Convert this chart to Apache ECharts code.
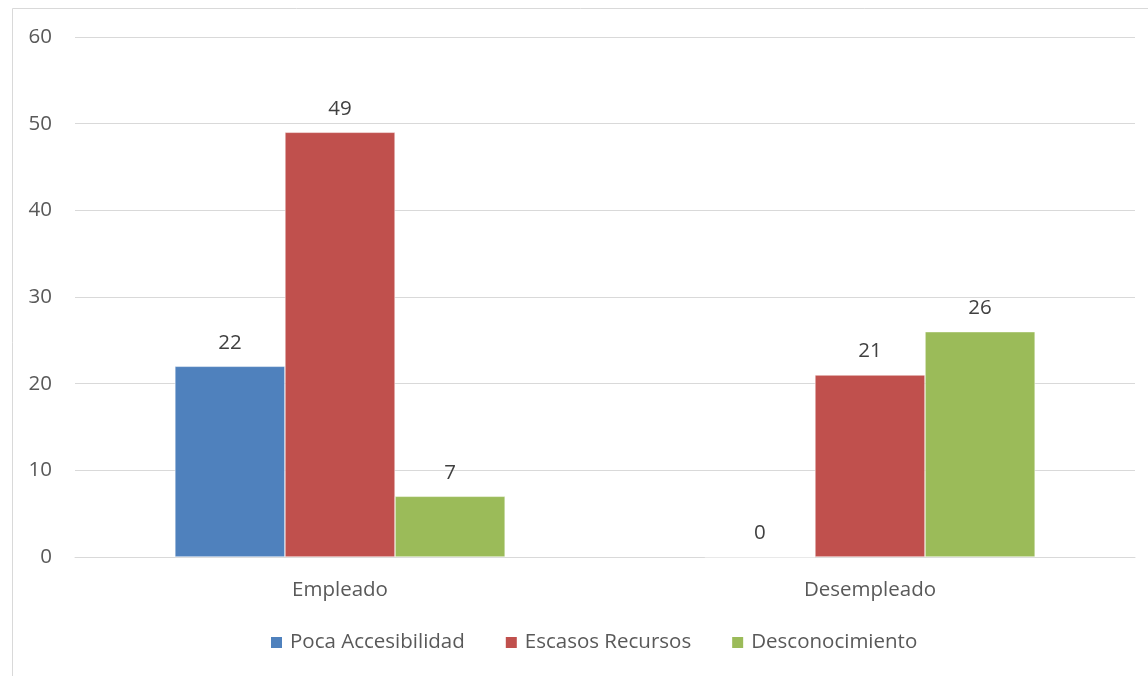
<!DOCTYPE html>
<html>
<head>
<meta charset="utf-8">
<script src="https://cdn.jsdelivr.net/npm/echarts@6/dist/echarts.min.js"></script>
<style>
html,body{margin:0;padding:0;background:#fff;}
#chart{width:1148px;height:676px;}
</style>
</head>
<body>
<div id="chart"></div>
<script>
const categories = ['Empleado', 'Desempleado'];
const seriesNames = ['Poca Accesibilidad', 'Escasos Recursos', 'Desconocimiento'];
const pocaAccesibilidad = [22, 0];
const escasosRecursos = [49, 21];
const desconocimiento = [7, 26];
const colors = ['#4F81BD', '#C0504D', '#9BBB59'];
const values = [pocaAccesibilidad, escasosRecursos, desconocimiento];

const font = 'Open Sans';
const chart = echarts.init(document.getElementById('chart'), null, {renderer: 'canvas'});
chart.setOption({
  animation: false,
  textStyle: {fontFamily: font},
  graphic: [{
    type: 'rect',
    shape: {x: 12.5, y: 8.5, width: 1200, height: 700},
    style: {fill: 'none', stroke: '#d9d9d9', lineWidth: 1},
    silent: true
  }],
  grid: {left: 75, right: 13, top: 37, bottom: 119, containLabel: false},
  legend: {
    left: 264,
    top: 627,
    itemWidth: 13,
    itemHeight: 13,
    itemGap: 39,
    icon: 'rect',
    textStyle: {fontFamily: font, fontSize: 20.5, color: '#595959', padding: [0, 0, 0, 2]},
    data: seriesNames
  },
  xAxis: {
    type: 'category',
    data: categories,
    axisLine: {lineStyle: {color: '#d9d9d9', width: 1}},
    axisTick: {show: false},
    axisLabel: {fontFamily: font, fontSize: 20.5, color: '#595959', margin: 23}
  },
  yAxis: {
    type: 'value',
    min: 0,
    max: 60,
    interval: 10,
    axisLine: {show: false},
    axisTick: {show: false},
    splitLine: {lineStyle: {color: '#d9d9d9', width: 1}},
    axisLabel: {fontFamily: font, fontSize: 20.5, color: '#595959', margin: 23}
  },
  series: seriesNames.map((n, i) => ({
    name: n,
    type: 'bar',
    data: values[i],
    barGap: '0%',
    barCategoryGap: '37.7%',
    itemStyle: {color: colors[i], borderColor: '#ffffff', borderWidth: 0.5},
    label: {show: true, position: 'top', distance: 13, fontFamily: font, fontSize: 20.5, color: '#404040'}
  }))
});
</script>
</body>
</html>
